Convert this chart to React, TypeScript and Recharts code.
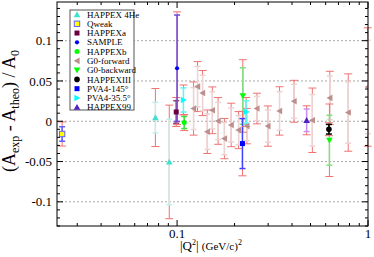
import React from 'react';
import { ScatterChart, Scatter, XAxis, YAxis, ErrorBar, ReferenceLine } from 'recharts';

// |Q^2| in (GeV/c)^2, (Aexp - Atheo)/A0, statistical and total errors
const happex4HeQ2 = [0.077, 0.091];
const happex4HeA = [0.0046, -0.0505];
const happex4HeStat = [0.019, 0.053];
const happex4HeTot = [0.036, 0.0705];

const qweakQ2 = [0.025];
const qweakA = [-0.0158];
const qweakStat = [0.009];
const qweakTot = [0.015];

const happexaQ2 = [0.099];
const happexaA = [0.0115];
const happexaStat = [0.014];
const happexaTot = [0.018];

const sampleQ2 = [0.1];
const sampleA = [0.0658];
const sampleStat = [0.066];
const sampleTot = [0.07];

const happexbQ2 = [0.109];
const happexbA = [-0.0016];
const happexbStat = [0.0075];
const happexbTot = [0.01];

const g0fQ2 = [0.122, 0.128, 0.136, 0.144, 0.153, 0.164, 0.177, 0.192, 0.21, 0.232, 0.262, 0.299, 0.344, 0.41, 0.511, 0.631, 0.788, 0.997];
const g0fA = [0.0158, 0.043, 0.035, -0.013, 0.0136, 0.0004, -0.0215, -0.0046, -0.011, -0.006, 0.0158, -0.006, 0.0128, 0.0248, 0.0012, 0.029, 0.0108, 0.0425];
const g0fStat = [0.026, 0.025, 0.022, 0.022, 0.023, 0.023, 0.02, 0.021, 0.018, 0.018, 0.015, 0.02, 0.024, 0.021, 0.032, 0.027, 0.038, 0.058];
const g0fTot = [0.033, 0.031, 0.028, 0.027, 0.029, 0.029, 0.025, 0.027, 0.023, 0.022, 0.019, 0.025, 0.03, 0.026, 0.04, 0.033, 0.048, 0.0735];

const g0bQ2 = [0.221, 0.628];
const g0bA = [0.0314, -0.0236];
const g0bStat = [0.035, 0.031];
const g0bTot = [0.045, 0.045];

const happex3Q2 = [0.624];
const happex3A = [-0.0099];
const happex3Stat = [0.006];
const happex3Tot = [0.008];

const pva145Q2 = [0.22];
const pva145A = [-0.0277];
const pva145Stat = [0.031];
const pva145Tot = [0.04];

const pva35Q2 = [0.108, 0.23];
const pva35A = [0.0264, 0.0115];
const pva35Stat = [0.015, 0.014];
const pva35Tot = [0.0186, 0.018];

const happex99Q2 = [0.477];
const happex99A = [0.0012];
const happex99Stat = [0.014];
const happex99Tot = [0.018];

const X_MAJOR = [0.1, 1];
const X_TICKS = [0.03, 0.04, 0.05, 0.06, 0.07, 0.08, 0.09, 0.1, 0.2, 0.3, 0.4, 0.5, 0.6, 0.7, 0.8, 0.9, 1];
const Y_GRID = [-0.1, -0.05, 0, 0.05, 0.1];
const Y_TICKS: number[] = [];
for (let i = -13; i <= 14; i++) Y_TICKS.push(i / 100);

const W = 374;
const H = 257;
const PLOT_L = 57;
const PLOT_R = 368;
const PLOT_T = 2;
const PLOT_B = 226;
const FONT = "'Liberation Serif', 'DejaVu Serif', serif";

const mk = (q2: number[], a: number[], stat: number[], tot: number[]) =>
  q2.map((x, i) => ({ x, y: a[i], stat: stat[i], tot: tot[i] }));

const tri = (dir: string, fill: string, r = 3.3) => (p: any) => {
  const { cx, cy } = p;
  let pts = '';
  if (dir === 'up') pts = `${cx},${cy - r} ${cx - r},${cy + r * 0.8} ${cx + r},${cy + r * 0.8}`;
  if (dir === 'down') pts = `${cx},${cy + r} ${cx - r},${cy - r * 0.8} ${cx + r},${cy - r * 0.8}`;
  if (dir === 'left') pts = `${cx - r},${cy} ${cx + r * 0.8},${cy - r} ${cx + r * 0.8},${cy + r}`;
  if (dir === 'right') pts = `${cx + r},${cy} ${cx - r * 0.8},${cy - r} ${cx - r * 0.8},${cy + r}`;
  return <polygon points={pts} fill={fill} />;
};
const sq = (fill: string, stroke?: string, r = 2.5) => (p: any) => (
  <rect x={p.cx - r} y={p.cy - r} width={2 * r} height={2 * r} fill={fill} stroke={stroke || 'none'} strokeWidth={1} />
);
const circ = (fill: string, r = 2.5) => (p: any) => <circle cx={p.cx} cy={p.cy} r={r} fill={fill} />;

const series = [
  { name: 'HAPPEX 4He', data: mk(happex4HeQ2, happex4HeA, happex4HeStat, happex4HeTot), shape: tri('up', '#40e0d0'), err: '#c0f0ee' },
  { name: 'Qweak', data: mk(qweakQ2, qweakA, qweakStat, qweakTot), shape: sq('#ffff00', '#6060ff', 2.7), err: '#6060ff' },
  { name: 'HAPPEXa', data: mk(happexaQ2, happexaA, happexaStat, happexaTot), shape: sq('#6a0040'), err: '#904070' },
  { name: 'SAMPLE', data: mk(sampleQ2, sampleA, sampleStat, sampleTot), shape: circ('#0000ff', 2.1), err: '#6a4ae0' },
  { name: 'HAPPEXb', data: mk(happexbQ2, happexbA, happexbStat, happexbTot), shape: circ('#00ff00'), err: '#40e040' },
  { name: 'G0-forward', data: mk(g0fQ2, g0fA, g0fStat, g0fTot), shape: tri('left', '#bc8f8f'), err: '#ecd4d4' },
  { name: 'G0-backward', data: mk(g0bQ2, g0bA, g0bStat, g0bTot), shape: tri('down', '#00ff00'), err: '#80e080' },
  { name: 'HAPPEXIII', data: mk(happex3Q2, happex3A, happex3Stat, happex3Tot), shape: circ('#000000', 2.8), err: '#000000' },
  { name: 'PVA4-145°', data: mk(pva145Q2, pva145A, pva145Stat, pva145Tot), shape: sq('#0000ff'), err: '#4040ff' },
  { name: 'PVA4-35.5°', data: mk(pva35Q2, pva35A, pva35Stat, pva35Tot), shape: tri('right', '#00ffff'), err: '#60f4f4' },
  { name: 'HAPPEX99', data: mk(happex99Q2, happex99A, happex99Stat, happex99Tot), shape: tri('up', '#5020c0'), err: '#c890f0' },
];

const XTick = (p: any) => {
  const v = p.payload.value;
  const major = X_MAJOR.includes(v);
  const len = major ? 6 : 3;
  return (
    <g>
      <line x1={p.x} x2={p.x} y1={p.y} y2={p.y - len} stroke="#000" />
      <line x1={p.x} x2={p.x} y1={PLOT_T} y2={PLOT_T + len} stroke="#000" />
      {major && (
        <text x={p.x} y={p.y + 12} textAnchor="middle" fontSize={13} fontFamily={FONT} fill="#000">
          {String(v)}
        </text>
      )}
    </g>
  );
};

const YTick = (p: any) => {
  const v = p.payload.value;
  const major = Math.round(v * 100) % 5 === 0;
  const len = major ? 6 : 3;
  return (
    <g>
      <line x1={p.x} x2={p.x + len} y1={p.y} y2={p.y} stroke="#000" />
      <line x1={PLOT_R} x2={PLOT_R - len} y1={p.y} y2={p.y} stroke="#000" />
      {major && (
        <text x={p.x - 5} y={p.y} dy="0.35em" textAnchor="end" fontSize={13} fontFamily={FONT} fill="#000">
          {String(Math.round(v * 100) / 100)}
        </text>
      )}
    </g>
  );
};

export default function App() {
  return (
    <div style={{ position: 'absolute', left: 0, top: 0, width: W, height: H, background: '#fff' }}>
      <ScatterChart width={W} height={H} margin={{ top: PLOT_T, right: W - PLOT_R, bottom: 0, left: 0 }}>
        <XAxis
          type="number"
          dataKey="x"
          scale="log"
          domain={[0.0235, 1]}
          allowDataOverflow
          ticks={X_TICKS}
          interval={0}
          tick={XTick}
          tickLine={false}
          axisLine={false}
          tickSize={0}
          tickMargin={0}
          height={H - PLOT_B}
        />
        <YAxis
          type="number"
          dataKey="y"
          domain={[-0.13, 0.148]}
          allowDataOverflow
          ticks={Y_TICKS}
          interval={0}
          tick={YTick}
          tickLine={false}
          axisLine={false}
          tickSize={0}
          tickMargin={0}
          width={PLOT_L}
        />
        {Y_GRID.map((v) => (
          <ReferenceLine key={v} y={v} stroke="#aaa" strokeDasharray="2 2" />
        ))}
        {series.map((s) => (
          <Scatter key={s.name} name={s.name} data={s.data} shape={s.shape} isAnimationActive={false}>
            <ErrorBar dataKey="tot" direction="y" stroke="#f07272" width={4} strokeWidth={1} />
            <ErrorBar dataKey="stat" direction="y" stroke={s.err} width={3} strokeWidth={1.5} />
          </Scatter>
        ))}
      </ScatterChart>
      <svg width={W} height={H} style={{ position: 'absolute', left: 0, top: 0, pointerEvents: 'none' }}>
        <rect x={PLOT_L} y={PLOT_T} width={PLOT_R - PLOT_L} height={PLOT_B - PLOT_T} fill="none" stroke="#000" />
        <rect x={70} y={10} width={64} height={100} fill="#fff" stroke="#555" />
        {series.map((s, i) => {
          const cy = 14.5 + i * 9.27;
          return (
            <g key={s.name}>
              {s.shape({ cx: 77, cy })}
              <text x={87} y={cy} dy="0.35em" fontSize={9} fontFamily={FONT} fill="#000">
                {s.name}
              </text>
            </g>
          );
        })}
        <text transform="translate(15,111) rotate(-90)" textAnchor="middle" fontSize={18} fontFamily={FONT} fill="#000">
          (A<tspan dy={4} fontSize={12}>exp</tspan>
          <tspan dy={-4}> - A</tspan>
          <tspan dy={4} fontSize={12}>theo</tspan>
          <tspan dy={-4}>) / A</tspan>
          <tspan dy={4} fontSize={12}>0</tspan>
        </text>
        <text x={180} y={250} fontSize={13} fontFamily={FONT} fill="#000">
          |Q<tspan dy={-5} fontSize={8}>2</tspan>
          <tspan dy={5}>| </tspan>
          <tspan fontSize={11}>(GeV/c)</tspan>
          <tspan dy={-5} fontSize={8}>2</tspan>
        </text>
      </svg>
    </div>
  );
}
